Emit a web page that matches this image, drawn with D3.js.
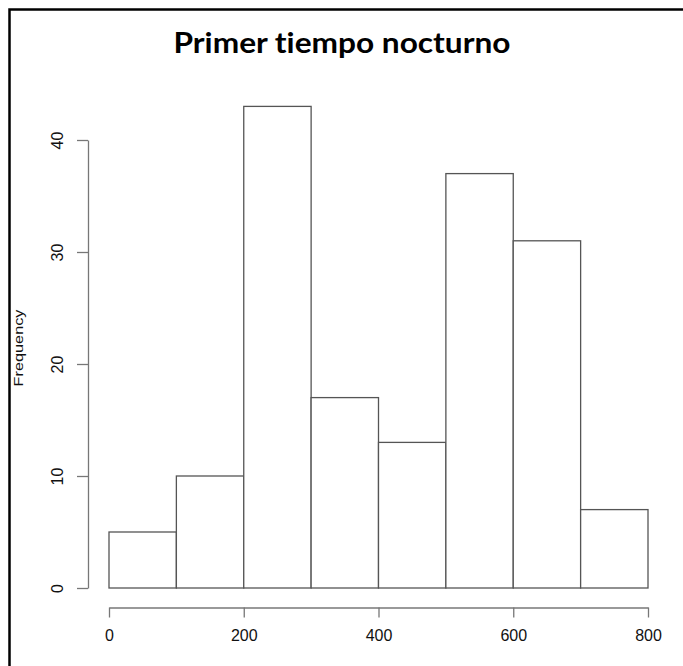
<!DOCTYPE html>
<html>
<head>
<meta charset="utf-8">
<script src="https://cdn.jsdelivr.net/npm/d3@7"></script>
<style>
  html, body { margin: 0; padding: 0; background: #fff; }
  svg { display: block; }
  text { font-variant-ligatures: none; }
</style>
</head>
<body>
<div id="chart"></div>
<script>
// histogram bins (lower edges, width 100) and counts
const binStarts = [0, 100, 200, 300, 400, 500, 600, 700];
const binWidth = 100;
const counts = [5, 10, 43, 17, 13, 37, 31, 7];
const xTicks = [0, 200, 400, 600, 800];
const yTicks = [0, 10, 20, 30, 40];
const title = "Primer tiempo nocturno";
const yLabel = "Frequency";

const width = 683, height = 666;

const svg = d3.select("#chart")
  .append("svg")
  .attr("width", width)
  .attr("height", height);

svg.append("rect").attr("width", width).attr("height", height).attr("fill", "#fff");

// frame (only left and top edges visible)
svg.append("path")
  .attr("d", "M9.5," + height + "V9.5H" + width)
  .attr("fill", "none")
  .attr("stroke", "#000")
  .attr("stroke-width", 2.5);

const x = d3.scaleLinear().domain([0, 800]).range([109, 648]);
const y = d3.scaleLinear().domain([0, 40]).range([588, 140]);

// bars
svg.selectAll("rect.bar")
  .data(counts)
  .enter()
  .append("rect")
  .attr("class", "bar")
  .attr("x", (d, i) => x(binStarts[i]))
  .attr("y", d => y(d))
  .attr("width", (d, i) => x(binStarts[i] + binWidth) - x(binStarts[i]))
  .attr("height", d => y(0) - y(d))
  .attr("fill", "#fff")
  .attr("stroke", "#555")
  .attr("stroke-width", 1.3);

// x axis
const xAxis = svg.append("g")
  .attr("transform", "translate(0,607.5)")
  .call(d3.axisBottom(x).tickValues(xTicks).tickSize(10).tickPadding(12).tickSizeOuter(0));
xAxis.select(".domain").attr("stroke", "#777").attr("stroke-width", 1.3);
xAxis.selectAll(".tick line").attr("stroke", "#777").attr("stroke-width", 1.3);
xAxis.selectAll("text")
  .attr("font-family", "Liberation Sans, Arial, sans-serif")
  .attr("font-size", 16)
  .attr("fill", "#111");

// y axis
const yAxis = svg.append("g")
  .attr("transform", "translate(88,0)")
  .call(d3.axisLeft(y).tickValues(yTicks).tickSize(11).tickSizeOuter(0));
yAxis.select(".domain").attr("stroke", "#777").attr("stroke-width", 1.3);
yAxis.selectAll(".tick line").attr("stroke", "#777").attr("stroke-width", 1.3);
yAxis.selectAll("text")
  .attr("x", 0).attr("dy", null).attr("y", 0)
  .attr("text-anchor", "middle")
  .attr("transform", "translate(-31,0) rotate(-90)")
  .attr("dominant-baseline", "central")
  .attr("font-family", "Liberation Sans, Arial, sans-serif")
  .attr("font-size", 16)
  .attr("fill", "#111");

// y label
svg.append("text")
  .attr("transform", "translate(19,348) rotate(-90)")
  .attr("text-anchor", "middle")
  .attr("dominant-baseline", "central")
  .attr("font-family", "Liberation Sans, Arial, sans-serif")
  .attr("font-size", 12.5)
  .attr("textLength", 77)
  .attr("lengthAdjust", "spacingAndGlyphs")
  .attr("fill", "#111")
  .text(yLabel);

// title
svg.append("text")
  .attr("x", 342)
  .attr("y", 53)
  .attr("text-anchor", "middle")
  .attr("font-family", "Lato, Open Sans, sans-serif")
  .attr("font-weight", "bold")
  .attr("font-size", 28)
  .attr("textLength", 337)
  .attr("lengthAdjust", "spacingAndGlyphs")
  .attr("fill", "#000")
  .text(title);
</script>
</body>
</html>
